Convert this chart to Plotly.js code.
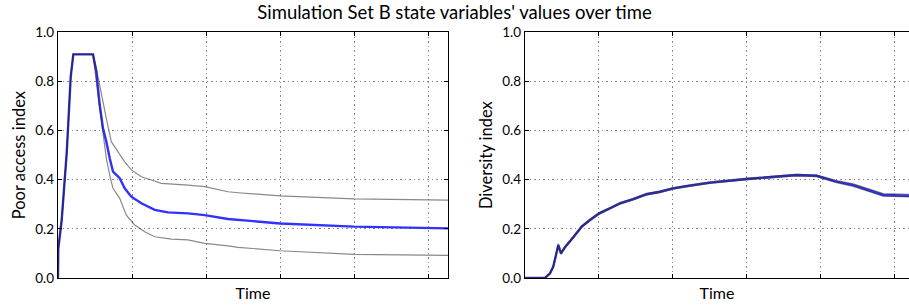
<!DOCTYPE html>
<html>
<head>
<meta charset="utf-8">
<script src="https://cdn.plot.ly/plotly-3.0.1.min.js"></script>
<style>html,body{margin:0;padding:0;background:#fff;}#chart{width:909px;height:307px;}</style>
</head>
<body>
<div id="chart"></div>
<script>
// Left panel: Poor access index
const timeMeanA  = [0, 0.4, 5, 7.2, 11.8, 13.9, 17.2, 20.7, 47.3, 51.8, 56.4, 60.8, 65.3, 69.9, 74.3, 83.4, 90.1, 99.1, 112.6, 130.7, 148.6, 175.7, 198.2, 229.7, 243.2, 300, 400, 527];
const meanA      = [0, 0.12, 0.236, 0.32, 0.51, 0.63, 0.82, 0.91, 0.91, 0.84, 0.704, 0.609, 0.555, 0.487, 0.433, 0.406, 0.365, 0.331, 0.304, 0.277, 0.267, 0.263, 0.256, 0.240, 0.236, 0.222, 0.209, 0.202];
const timeUpperA = [0, 0.4, 5, 7.2, 11.8, 13.9, 17.2, 20.7, 47.3, 51.8, 58.5, 65.3, 72, 81.1, 90.1, 99.1, 112.6, 126.1, 139.6, 175.7, 198.2, 229.7, 243.2, 300, 400, 527];
const upperA     = [0, 0.12, 0.236, 0.32, 0.51, 0.63, 0.82, 0.91, 0.91, 0.853, 0.745, 0.65, 0.555, 0.514, 0.473, 0.44, 0.412, 0.399, 0.385, 0.378, 0.372, 0.351, 0.347, 0.334, 0.322, 0.317];
const timeLowerA = [0, 0.4, 5, 7.2, 11.8, 13.9, 17.2, 20.7, 47.3, 54.1, 60.8, 65.3, 69.9, 74.3, 83.4, 92.3, 103.6, 117.2, 130.7, 153.1, 175.7, 198.2, 229.7, 243.2, 300, 400, 527];
const lowerA     = [0, 0.12, 0.236, 0.32, 0.51, 0.63, 0.82, 0.91, 0.91, 0.745, 0.595, 0.487, 0.419, 0.365, 0.324, 0.256, 0.216, 0.188, 0.168, 0.158, 0.155, 0.141, 0.131, 0.125, 0.111, 0.096, 0.092];

// Right panel: Diversity index
const timeB  = [0, 27, 33.8, 38.2, 41.9, 45, 48.6, 54, 65.3, 76.6, 87.8, 100.4, 114.9, 128.4, 146.4, 164.5, 182.4, 200.4, 218.5, 236.5, 250, 300.4, 349, 367, 394, 421, 443.6, 475.3, 484.2, 519, 527];
const meanB  = [0, 0, 0.019, 0.046, 0.094, 0.134, 0.100, 0.125, 0.166, 0.209, 0.236, 0.263, 0.284, 0.304, 0.321, 0.341, 0.351, 0.365, 0.374, 0.383, 0.388, 0.403, 0.415, 0.419, 0.416, 0.392, 0.378, 0.347, 0.338, 0.335, 0.335];
const upperB = [0, 0, 0.022, 0.050, 0.098, 0.140, 0.104, 0.128, 0.169, 0.212, 0.239, 0.266, 0.287, 0.307, 0.324, 0.344, 0.354, 0.368, 0.377, 0.386, 0.391, 0.406, 0.418, 0.422, 0.419, 0.396, 0.383, 0.352, 0.343, 0.340, 0.340];
const lowerB = [0, 0, 0.016, 0.042, 0.090, 0.128, 0.096, 0.122, 0.163, 0.206, 0.233, 0.260, 0.281, 0.301, 0.318, 0.338, 0.348, 0.362, 0.371, 0.380, 0.385, 0.400, 0.412, 0.416, 0.413, 0.388, 0.373, 0.342, 0.333, 0.330, 0.330];

const gridTicks = [100, 200, 300, 400, 500];
const yTicks = [0, 0.2, 0.4, 0.6, 0.8, 1.0];

const blue = 'rgb(50,50,255)';
const grey = 'rgba(40,40,40,0.55)';
const font = 'Lato, "Open Sans", sans-serif';

const traces = [
  {x: timeMeanA, y: meanA, xaxis: 'x', yaxis: 'y', mode: 'lines', line: {color: blue, width: 2.4}},
  {x: timeUpperA, y: upperA, xaxis: 'x', yaxis: 'y', mode: 'lines', line: {color: grey, width: 1.2}},
  {x: timeLowerA, y: lowerA, xaxis: 'x', yaxis: 'y', mode: 'lines', line: {color: grey, width: 1.2}},
  {x: timeB, y: meanB, xaxis: 'x2', yaxis: 'y2', mode: 'lines', line: {color: blue, width: 2.4}},
  {x: timeB, y: upperB, xaxis: 'x2', yaxis: 'y2', mode: 'lines', line: {color: grey, width: 1.3}},
  {x: timeB, y: lowerB, xaxis: 'x2', yaxis: 'y2', mode: 'lines', line: {color: grey, width: 1.3}}
];

const xbase = {
  tickvals: gridTicks, showticklabels: false, ticks: 'inside', ticklen: 4, tickcolor: '#000',
  showgrid: true, gridcolor: '#888', griddash: '1.5px,3px', gridwidth: 1, zeroline: false,
  showline: true, linecolor: '#000', linewidth: 1.2, mirror: 'ticks', automargin: false,
  title: {text: 'Time', font: {family: font, size: 16, color: '#000'}, standoff: 9}
};
const ybase = {
  range: [0, 1], tickvals: yTicks, tickformat: '.1f', ticks: 'inside', ticklen: 4, tickcolor: '#000',
  tickfont: {family: font, size: 13.5, color: '#000'},
  showgrid: true, gridcolor: '#888', griddash: '1.5px,3px', gridwidth: 1, zeroline: false,
  showline: true, linecolor: '#000', linewidth: 1.2, automargin: false
};

const layout = {
  width: 909, height: 307,
  margin: {l: 0, r: 0, t: 0, b: 0},
  paper_bgcolor: '#fff', plot_bgcolor: '#fff',
  showlegend: false,
  font: {family: font, color: '#000'},
  title: {text: "Simulation Set B state variables' values over time", font: {family: font, size: 18.5, color: '#000'}, x: 0.5, xanchor: 'center', y: 0.958, yanchor: 'middle'},
  xaxis: Object.assign({}, xbase, {domain: [58/909, 448/909], range: [0, 527], anchor: 'y'}),
  yaxis: Object.assign({}, ybase, {domain: [1 - 278/307, 1 - 32.3/307], anchor: 'x', mirror: 'ticks',
    title: {text: 'Poor access index', font: {family: font, size: 16.5, color: '#000'}, standoff: 5}}),
  xaxis2: Object.assign({}, xbase, {domain: [525/909, 1], range: [0, 519], anchor: 'y2'}),
  yaxis2: Object.assign({}, ybase, {domain: [1 - 278/307, 1 - 32.3/307], anchor: 'x2', mirror: false,
    title: {text: 'Diversity index', font: {family: font, size: 16.5, color: '#000'}, standoff: 5}})
};

Plotly.newPlot('chart', traces, layout, {staticPlot: true, displayModeBar: false});
</script>
</body>
</html>
